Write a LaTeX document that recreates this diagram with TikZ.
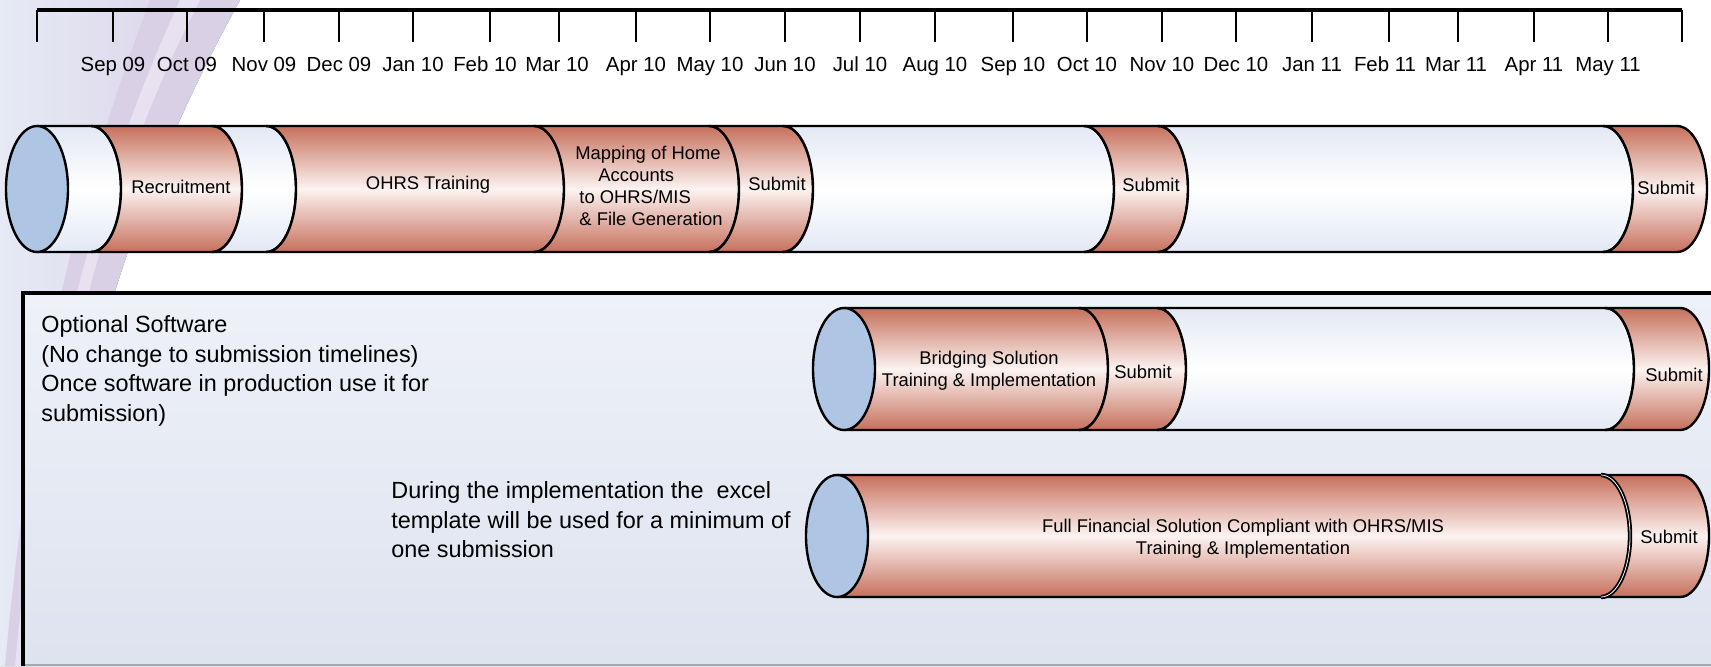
\documentclass[tikz,border=0pt]{standalone}
\usepackage{fontspec}
\setmainfont{Liberation Sans}

\definecolor{rustE}{RGB}{198,112,92}
\definecolor{rustM}{RGB}{252,243,241}
\definecolor{paleE}{RGB}{226,232,244}
\definecolor{capBlue}{RGB}{174,197,228}
\definecolor{boxTop}{RGB}{238,241,248}
\definecolor{boxBot}{RGB}{221,227,239}
\definecolor{swooshBlue}{RGB}{230,234,245}
\definecolor{swooshLav}{RGB}{218,208,230}

\begin{document}
\begin{tikzpicture}[x=0.5pt,y=0.5pt,
		cylline/.style={draw=black,line width=1.2pt},
		capend/.style={cylline,fill=capBlue},
		seglabel/.style={font=\fontsize{9.2}{11}\selectfont,inner sep=0pt},
		monthlabel/.style={font=\fontsize{10.2}{12}\selectfont,anchor=base,inner sep=0pt},
		boxtext/.style={font=\fontsize{11.7}{14.7}\selectfont,align=left,anchor=west,inner sep=0pt}]
		\useasboundingbox (0,0) rectangle (1711,666);
		
		% background swoosh on the left
		\fill[left color=swooshBlue,right color=swooshLav] (0,0) -- (0,666) -- (240,666)
		.. controls (165,530) and (75,330) .. (40,0) -- cycle;
		\fill[swooshLav] (150,666) -- (240,666) .. controls (165,530) and (75,330) .. (40,0)
		-- (5,0) .. controls (35,330) and (95,520) .. (150,666) -- cycle;
		\fill[white,opacity=0.4] (180,666) -- (200,666) .. controls (130,530) and (55,330) .. (25,0)
		-- (15,0) .. controls (45,330) and (118,530) .. (180,666) -- cycle;
		
		% timeline
		\draw[line width=2pt] (37,656) -- (1682,656);
		\foreach \x in {37,113,187,264,339,413,490,559,636,710,785,860,935,1013,1087,1162,1236,1312,1389,1458,1534,1608,1682}
			\draw[line width=0.8pt] (\x,656) -- (\x,624);
		\foreach \x/\m [count=\i] in {113/Sep 09,187/Oct 09,264/Nov 09,339/Dec 09,413/Jan 10,485/Feb 10,557/Mar 10,
			636/Apr 10,710/May 10,785/Jun 10,860/Jul 10,935/Aug 10,1013/Sep 10,1087/Oct 10,1162/Nov 10,
			1236/Dec 10,1312/Jan 11,1385/Feb 11,1456/Mar 11,1534/Apr 11,1608/May 11}
			\node[monthlabel] (Month\i) at (\x,595) {\m};
		
		% main cylinder
		\foreach \xa/\xb/\ec/\mc in {37/91/paleE/white,91/212/rustE/rustM,212/266/paleE/white,266/534/rustE/rustM,
			534/709/rustE/rustM,709/783/rustE/rustM,783/1084/paleE/white,1084/1158/rustE/rustM,
			1158/1603/paleE/white,1603/1677/rustE/rustM}
			\filldraw[cylline,top color=\ec,bottom color=\ec,middle color=\mc] (\xa,540) -- (\xb,540)
			arc[start angle=90,end angle=-90,x radius=30,y radius=63] -- (\xa,414)
			arc[start angle=-90,end angle=90,x radius=30,y radius=63] -- cycle;
		\filldraw[capend] (37,477) ellipse [x radius=31,y radius=63];
		
		\node[seglabel]	(Recruit)	at (181,479)	{Recruitment};
		\node[seglabel]	(OhrsTrain)	at (428,481)	{OHRS Training};
		\node[seglabel,align=left,anchor=west]	(Mapping)	at (575,480)
			{Mapping of Home\\\hspace{11.5pt}Accounts\\\hspace{2pt}to OHRS/MIS\\\hspace{2pt}\& File Generation};
		\node[seglabel]	(SubmitA)	at (777,482)	{Submit};
		\node[seglabel]	(SubmitB)	at (1151,481)	{Submit};
		\node[seglabel]	(SubmitC)	at (1666,478)	{Submit};
		
		% optional software box
		\fill[top color=boxTop,bottom color=boxBot] (23,0) rectangle (1711,373);
		\draw[gray!70,line width=0.8pt] (23,1) -- (1711,1);
		\draw[line width=2pt] (23,0) -- (23,373) -- (1715,373);
		
		\node[boxtext]	(OptNote)	at (41,295)
			{Optional Software\\(No change to submission timelines)\\Once software in production use it for\\submission)};
		\node[boxtext]	(DuringNote)	at (391,146)
			{During the implementation the~ excel\\template will be used for a minimum of\\one submission};
		
		% bridging cylinder
		\foreach \xa/\xb/\ec/\mc in {844/1079/rustE/rustM,1079/1157/rustE/rustM,1157/1605/paleE/white,1605/1680/rustE/rustM}
			\filldraw[cylline,top color=\ec,bottom color=\ec,middle color=\mc] (\xa,358) -- (\xb,358)
			arc[start angle=90,end angle=-90,x radius=29,y radius=61] -- (\xa,236)
			arc[start angle=-90,end angle=90,x radius=29,y radius=61] -- cycle;
		\filldraw[capend] (844,297) ellipse [x radius=31,y radius=61];
		
		\node[seglabel,align=center]	(Bridging)	at (989,295)	{Bridging Solution\\Training \& Implementation};
		\node[seglabel]	(BridgeSubmitA)	at (1143,294)	{Submit};
		\node[seglabel]	(BridgeSubmitB)	at (1674,291)	{Submit};
		
		% full solution cylinder
		\foreach \xa/\xb/\ec/\mc in {837/1601/rustE/rustM,1601/1680/rustE/rustM}
			\filldraw[cylline,top color=\ec,bottom color=\ec,middle color=\mc] (\xa,191) -- (\xb,191)
			arc[start angle=90,end angle=-90,x radius=29,y radius=61] -- (\xa,69)
			arc[start angle=-90,end angle=90,x radius=29,y radius=61] -- cycle;
		\draw[black,line width=0.9pt,double=rustM,double distance=0.4pt] (1601,191)
			arc[start angle=90,end angle=-90,x radius=29,y radius=61];
		\filldraw[capend] (837,130) ellipse [x radius=31,y radius=61];
		
		\node[seglabel,align=center]	(FullSol)	at (1243,127)
			{Full Financial Solution Compliant with OHRS/MIS\\Training \& Implementation};
		\node[seglabel]	(FullSubmit)	at (1669,129)	{Submit};
\end{tikzpicture}
\end{document}
